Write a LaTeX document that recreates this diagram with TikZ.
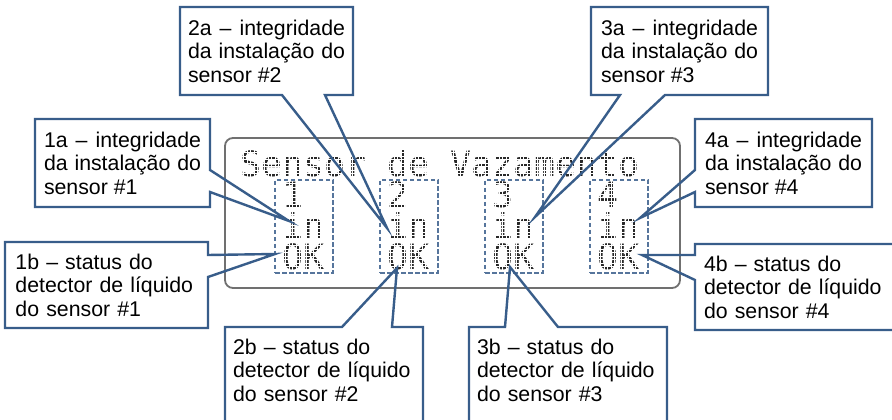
\documentclass[tikz,border=0pt]{standalone}
\usepackage{fontspec}
\setmainfont{Liberation Sans}
\newfontfamily\lcdfont{DejaVu Sans Mono}
\usetikzlibrary{backgrounds}

\definecolor{calloutblue}{RGB}{56,93,138}
\definecolor{lcdframe}{RGB}{112,112,112}
\definecolor{lcdink}{RGB}{40,40,40}

\tikzset{
  infobox/.style={minimum width=175pt, minimum height=88pt, text width=157pt, align=justify,
    inner sep=0pt, outer sep=0pt, font=\fontsize{21.3}{23.6}\selectfont},
  statusbox/.style={infobox, text width=182pt, align=left},
  calloutline/.style={draw=calloutblue, line width=2.4pt, line join=miter},
  lcdtext/.style={anchor=base west, inner sep=0pt, text height=25pt, text depth=0pt, text=lcdink,
    font=\lcdfont\fontsize{34.9}{34.9}\selectfont},
  sensorbox/.style={draw=calloutblue!85, line width=1.2pt, dash pattern=on 4.5pt off 2.5pt,
    minimum width=58pt, minimum height=93pt, inner sep=0pt, outer sep=0pt},
}

\begin{document}
\begin{tikzpicture}[x=1pt, y=1pt, background rectangle/.style={fill=white}, show background rectangle, inner frame sep=0pt]
\useasboundingbox (0,0) rectangle (892,420);

% display frame
\draw[lcdframe, line width=1.8pt, rounded corners=8pt] (225,132) rectangle (680,282);

% display text
\node[lcdtext] (title) at (240,243) {Sensor de Vazamento};
\foreach \k in {1,...,4} {
  \node[lcdtext] (num\k) at (240+105*\k-63, 212) {\k};
  \node[lcdtext, text height=20pt] (in\k) at (240+105*\k-63, 181) {in};
  \node[lcdtext] (ok\k) at (240+105*\k-63, 150) {OK};
}

% dot matrix gaps
\foreach \i in {-1,...,118}
  \draw[white, line width=0.9pt] (240+3.5*\i, 145) -- (240+3.5*\i, 272);
\foreach \j in {-1,...,35}
  \draw[white, line width=0.9pt] (236, 150+3.444*\j) -- (655, 150+3.444*\j);

% sensor columns
\foreach \k in {1,...,4}
  \node[sensorbox] (sensor\k) at (240+105*\k-41, 193.5) {};

% pointer tips
\coordinate (t1a) at ([shift={(-15,5.5)}]sensor1.center);
\coordinate (t1b) at ([shift={(0,-27.5)}]sensor1.west);
\coordinate (t2a) at ([shift={(-22,-1.5)}]sensor2.center);
\coordinate (t2b) at ([shift={(-12,-41.5)}]sensor2.center);
\coordinate (t3a) at ([shift={(21,9.5)}]sensor3.center);
\coordinate (t3b) at ([shift={(-4,-40.5)}]sensor3.center);
\coordinate (t4a) at ([shift={(21,8.5)}]sensor4.center);
\coordinate (t4b) at ([shift={(23,-28.5)}]sensor4.center);

% sensor 1
\node[infobox] (n1a) at (122.5,257) {1a – integridade da instalação do sensor \#1};
\draw[calloutline] (n1a.north west) -- (n1a.north east) -- ([yshift=-7pt]n1a.east) -- (t1a)
  -- ([yshift=-29pt]n1a.east) -- (n1a.south east) -- (n1a.south west) -- cycle;
\node[statusbox, minimum width=203pt, minimum height=86pt] (n1b) at (106.5,135) {1b – status do\\detector de líquido\\do sensor \#1};
\draw[calloutline] (n1b.north west) -- (n1b.north east) -- ([yshift=30pt]n1b.east) -- (t1b)
  -- ([yshift=8pt]n1b.east) -- (n1b.south east) -- (n1b.south west) -- cycle;

% sensor 2
\node[infobox, minimum width=173pt] (n2a) at (266.5,369) {2a – integridade da instalação do sensor \#2};
\draw[calloutline] (n2a.north west) -- (n2a.north east) -- (n2a.south east) -- ([xshift=58.5pt]n2a.south)
  -- (t2a) -- ([xshift=15.5pt]n2a.south) -- (n2a.south west) -- cycle;
\node[statusbox, minimum width=198pt, minimum height=110pt] (n2b) at (324,38) {2b – status do\\detector de líquido\\do sensor \#2\\\mbox{}};
\draw[calloutline] (n2b.south west) -- (n2b.north west) -- ([xshift=18pt]n2b.north) -- (t2b)
  -- ([xshift=68pt]n2b.north) -- (n2b.north east) -- (n2b.south east);

% sensor 3
\node[infobox, minimum width=177pt] (n3a) at (679.5,369) {3a – integridade da instalação do sensor \#3};
\draw[calloutline] (n3a.north west) -- (n3a.north east) -- (n3a.south east) -- ([xshift=-14.5pt]n3a.south)
  -- (t3a) -- ([xshift=-59.5pt]n3a.south) -- (n3a.south west) -- cycle;
\node[statusbox, minimum width=198pt, minimum height=110pt] (n3b) at (568,38) {3b – status do\\detector de líquido\\do sensor \#3\\\mbox{}};
\draw[calloutline] (n3b.south west) -- (n3b.north west) -- ([xshift=-63pt]n3b.north) -- (t3b)
  -- ([xshift=-10pt]n3b.north) -- (n3b.north east) -- (n3b.south east);

% sensor 4
\node[infobox, minimum width=177pt] (n4a) at (783.5,257) {4a – integridade da instalação do sensor \#4};
\draw[calloutline] (n4a.north west) -- (n4a.north east) -- (n4a.south east) -- (n4a.south west)
  -- ([yshift=-29pt]n4a.west) -- (t4a) -- ([yshift=-7pt]n4a.west) -- cycle;
\node[statusbox, minimum width=200pt, minimum height=86pt] (n4b) at (795,133) {4b – status do\\detector de líquido\\do sensor \#4};
\draw[calloutline] (n4b.north west) -- (n4b.north east) -- (n4b.south east) -- (n4b.south west)
  -- ([yshift=7pt]n4b.west) -- (t4b) -- ([yshift=32pt]n4b.west) -- cycle;

\end{tikzpicture}
\end{document}
